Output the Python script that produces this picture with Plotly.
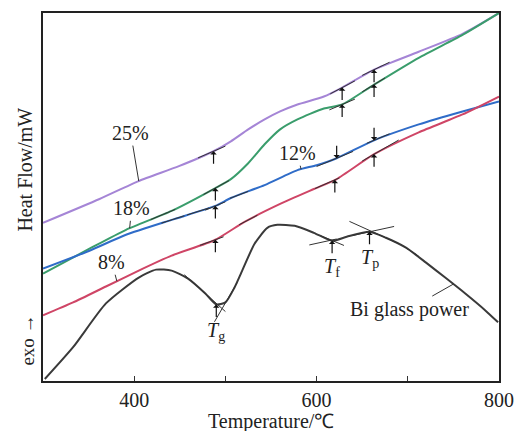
import numpy as np
import plotly.graph_objects as go

# ---------------- data ----------------
temp_25 = [300, 362, 405, 449, 487, 506, 525, 543, 560, 579, 608, 628, 663, 712, 760, 800]
hf_25 = [15.9, 18.3, 20.1, 21.6, 23.1, 24.1, 25.3, 26.3, 27.1, 27.8, 28.6, 29.5, 31.3, 33.1, 34.9, 37.0]

temp_18 = [300, 351, 391, 441, 489, 506, 525, 543, 560, 579, 608, 628, 663, 712, 760, 800]
hf_18 = [10.8, 13.3, 15.2, 17.1, 19.4, 20.3, 21.9, 23.8, 25.3, 26.3, 27.4, 27.8, 29.8, 32.5, 34.8, 37.0]

temp_12 = [300, 351, 391, 441, 489, 506, 543, 579, 600, 622, 663, 712, 760, 800]
hf_12 = [11.3, 13.1, 14.7, 16.2, 17.6, 18.4, 19.7, 21.2, 21.7, 22.4, 24.2, 25.8, 27.1, 28.1]

temp_8 = [300, 333, 369, 405, 441, 489, 521, 560, 597, 622, 663, 712, 760, 800]
hf_8 = [6.6, 7.9, 9.5, 11.1, 12.6, 14.2, 16.0, 17.8, 19.3, 20.3, 22.8, 25.0, 26.8, 28.6]

temp_bi = [302, 333, 369, 405, 424, 441, 459, 478, 490, 500, 510, 517, 532, 546, 557, 576,
           597, 617, 633, 658, 676, 698, 720, 741, 763, 785, 799]
hf_bi = [0.2, 3.4, 7.8, 10.4, 11.2, 11.1, 10.3, 8.8, 7.7, 7.9, 9.4, 10.8, 13.8, 15.4, 15.7, 15.6,
         14.9, 14.1, 14.5, 15.0, 14.4, 13.4, 11.9, 10.4, 8.8, 7.1, 5.9]

series_names = ["25%", "18%", "12%", "8%", "Bi glass power"]
series_colors = ["#a585d6", "#3a9d6c", "#2f6cc8", "#cf4566", "#3a3a3a"]

# characteristic temperatures marked with arrows
arrows_up_25 = [487, 628, 663]
arrows_up_18 = [489, 628, 663]
arrows_up_12 = [489]
arrows_down_12 = [622, 663]
arrows_up_8 = [489, 620, 663]
arrows_up_bi = [490, 617, 658]
bi_marker_labels = ["<i>T</i><sub>g</sub>", "<i>T</i><sub>f</sub>", "<i>T</i><sub>p</sub>"]

# tangent constructions (anchor temperature, from, to)
tan_25 = [(480, 470, 500), (628, 615, 642), (663, 650, 680)]
tan_18 = [(430, 418, 445), (489, 476, 504), (628, 614, 642), (663, 650, 675)]
tan_12 = [(440, 430, 455), (470, 458, 482), (489, 478, 500), (515, 505, 525), (622, 600, 640), (663, 655, 680)]
tan_8 = [(480, 472, 498), (525, 515, 535), (610, 598, 625), (663, 650, 690)]
tan_bi = [(475, 455, 500), (506, 488, 513), (600, 605, 630), (640, 592, 622),
          (645, 640, 685), (678, 636, 690), (700, 695, 712)]

# ---------------- figure ----------------
curves = [(temp_25, hf_25), (temp_18, hf_18), (temp_12, hf_12), (temp_8, hf_8), (temp_bi, hf_bi)]
fig = go.Figure()
for (t, h), name, col in zip(curves, series_names, series_colors):
    fig.add_trace(go.Scatter(x=t, y=h, mode="lines", name=name,
                             line=dict(color=col, width=2, shape="spline", smoothing=0.6),
                             hoverinfo="skip"))


def f_of(curve, T):
    t, h = curve
    return float(np.interp(T, t, h))


def slope_of(curve, T, d=6):
    return (f_of(curve, T + d) - f_of(curve, T - d)) / (2 * d)


tx, ty = [], []
for curve, tans in zip(curves, [tan_25, tan_18, tan_12, tan_8, tan_bi]):
    for a, x0, x1 in tans:
        s = slope_of(curve, a)
        ya = f_of(curve, a)
        tx += [x0, x1, None]
        ty += [ya + s * (x0 - a), ya + s * (x1 - a), None]
fig.add_trace(go.Scatter(x=tx, y=ty, mode="lines", line=dict(color="#333", width=1),
                         hoverinfo="skip", showlegend=False))

annotations = []


def add_arrow(curve, T, up=True):
    annotations.append(dict(x=T, y=f_of(curve, T), xref="x", yref="y",
                            ax=0, ay=14 if up else -14, axref="pixel", ayref="pixel",
                            showarrow=True, arrowhead=1, arrowsize=0.9, arrowwidth=1.2,
                            arrowcolor="#111", text=""))


for T in arrows_up_25:
    add_arrow(curves[0], T)
for T in arrows_up_18:
    add_arrow(curves[1], T)
for T in arrows_up_12:
    add_arrow(curves[2], T)
for T in arrows_down_12:
    add_arrow(curves[2], T, up=False)
for T in arrows_up_8:
    add_arrow(curves[3], T)
for T in arrows_up_bi:
    add_arrow(curves[4], T)

serif = "Liberation Serif, Times New Roman, serif"
label_font = dict(family=serif, size=20, color="#222")

# curve labels with leader lines: (curve index, head temperature, ax, ay)
label_leaders = [(0, 405, -8, -48), (1, 395, 2, -20), (2, 583, -4, -16), (3, 381, -5, -19), (4, 750, -44, 25)]
for idx, T, ax, ay in label_leaders:
    annotations.append(dict(x=T, y=f_of(curves[idx], T), xref="x", yref="y",
                            ax=ax, ay=ay, axref="pixel", ayref="pixel",
                            text=series_names[idx], font=label_font,
                            showarrow=True, arrowhead=0, arrowwidth=1, arrowcolor="#333"))

# Tg, Tf, Tp labels below the arrows
for T, lab in zip(arrows_up_bi, bi_marker_labels):
    annotations.append(dict(x=T, y=f_of(curves[4], T), xref="x", yref="y",
                            yshift=-27, text=lab, showarrow=False,
                            font=dict(family=serif, size=20, color="#222")))

# axis titles
annotations.append(dict(x=-0.039, y=0.575, xref="paper", yref="paper", text="Heat Flow/mW",
                        xanchor="center", yanchor="middle",
                        textangle=-90, showarrow=False, font=dict(family=serif, size=20, color="#222")))
annotations.append(dict(x=-0.035, y=0.11, xref="paper", yref="paper", text="exo <b>\u2192</b>",
                        xanchor="center", yanchor="middle",
                        textangle=-90, showarrow=False, font=dict(family=serif, size=19, color="#222")))
annotations.append(dict(x=0.501, y=-0.11, xref="paper", yref="paper", text="Temperature/\u2103",
                        xanchor="center", yanchor="middle",
                        showarrow=False, font=dict(family=serif, size=20, color="#222")))

fig.update_layout(
    width=525, height=431,
    margin=dict(l=43, r=21, t=11, b=50),
    paper_bgcolor="white", plot_bgcolor="white",
    showlegend=False,
    annotations=annotations,
    xaxis=dict(range=[300, 800], tickvals=[400, 500, 600, 700, 800],
               ticktext=["400", "", "600", "", "800"], ticks="inside", ticklen=5,
               tickcolor="#333", showline=True, linecolor="#222", linewidth=1.5,
               mirror=True, showgrid=False, zeroline=False,
               tickfont=dict(family=serif, size=20, color="#222")),
    yaxis=dict(range=[0, 37], showticklabels=False, ticks="", showline=True,
               linecolor="#222", linewidth=1.5, mirror=True, showgrid=False, zeroline=False),
)

fig.write_html("out.html")
